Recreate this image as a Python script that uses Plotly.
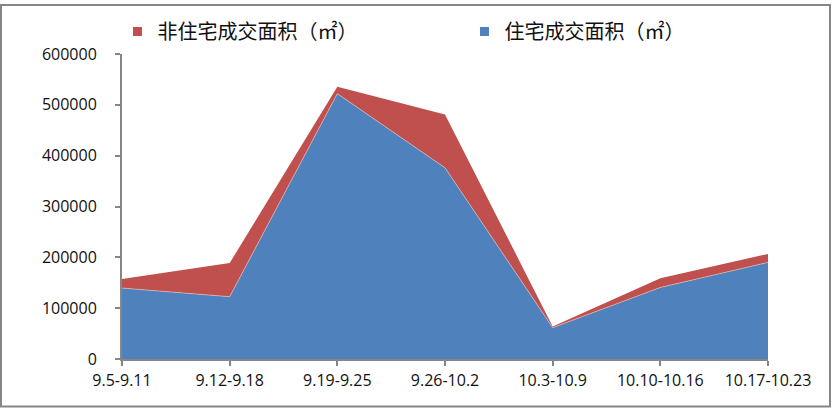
import plotly.graph_objects as go

categories = ["9.5-9.11", "9.12-9.18", "9.19-9.25", "9.26-10.2", "10.3-10.9", "10.10-10.16", "10.17-10.23"]
residential = [139500, 122600, 522000, 376100, 61700, 140700, 190000]
non_residential = [18100, 66100, 13600, 105000, 2000, 18300, 16800]
name_res = "住宅成交面积（㎡）"
name_non = "非住宅成交面积（㎡）"
y_ticks = [0, 100000, 200000, 300000, 400000, 500000, 600000]

BLUE = "#4F81BD"
RED = "#C0504D"
GRAY = "#868686"

fig = go.Figure()
fig.add_trace(go.Scatter(x=categories, y=residential, stackgroup="one", mode="lines",
                         line=dict(width=0.6, color="#E8C8C8"), fillcolor=BLUE,
                         name=name_res, showlegend=False))
fig.add_trace(go.Scatter(x=categories, y=non_residential, stackgroup="one", mode="lines",
                         line=dict(width=0), fillcolor=RED,
                         name=name_non, showlegend=False))
# legend entries
fig.add_trace(go.Scatter(x=[None], y=[None], mode="markers",
                         marker=dict(symbol="square", size=9, color=RED),
                         name=name_non, showlegend=True))
fig.add_trace(go.Scatter(x=[None], y=[None], mode="markers",
                         marker=dict(symbol="square", size=9, color=BLUE),
                         name=name_res, showlegend=True))

# outer chart border
fig.add_shape(type="rect", xref="paper", yref="paper",
              x0=(1 - 122) / 646, x1=(830 - 122) / 646,
              y0=(359 - 407) / 308.5, y1=(359 - 1) / 308.5,
              line=dict(color=GRAY, width=2), fillcolor="rgba(0,0,0,0)", layer="below")

fig.update_layout(
    width=832, height=409,
    margin=dict(l=122, r=64, t=50, b=50),
    paper_bgcolor="white", plot_bgcolor="white",
    font=dict(family="Open Sans, Liberation Sans, sans-serif", size=16, color="#111111"),
    legend=dict(orientation="h", x=-0.007, y=1.074, xanchor="left", yanchor="middle",
                traceorder="normal",
                font=dict(family="Noto Sans CJK SC", size=20, color="#111111"),
                entrywidth=302, entrywidthmode="pixels", itemwidth=30,
                bgcolor="rgba(0,0,0,0)"),
    xaxis=dict(type="category", range=[0, len(categories) - 1],
               showline=True, linecolor=GRAY, linewidth=2,
               ticks="outside", ticklen=5, tickcolor=GRAY, tickwidth=2,
               showgrid=False, zeroline=False, ticklabelstandoff=1,
               tickfont=dict(size=16)),
    yaxis=dict(range=[0, 600000], tickvals=y_ticks, ticktext=[str(v) for v in y_ticks],
               showline=True, linecolor=GRAY, linewidth=2,
               ticks="outside", ticklen=5, tickcolor=GRAY, tickwidth=2,
               showgrid=False, zeroline=False, ticklabelstandoff=15,
               tickfont=dict(size=16)),
)

fig.write_html("out.html", config={"displayModeBar": False},
               post_script="document.body.style.margin='0';")
